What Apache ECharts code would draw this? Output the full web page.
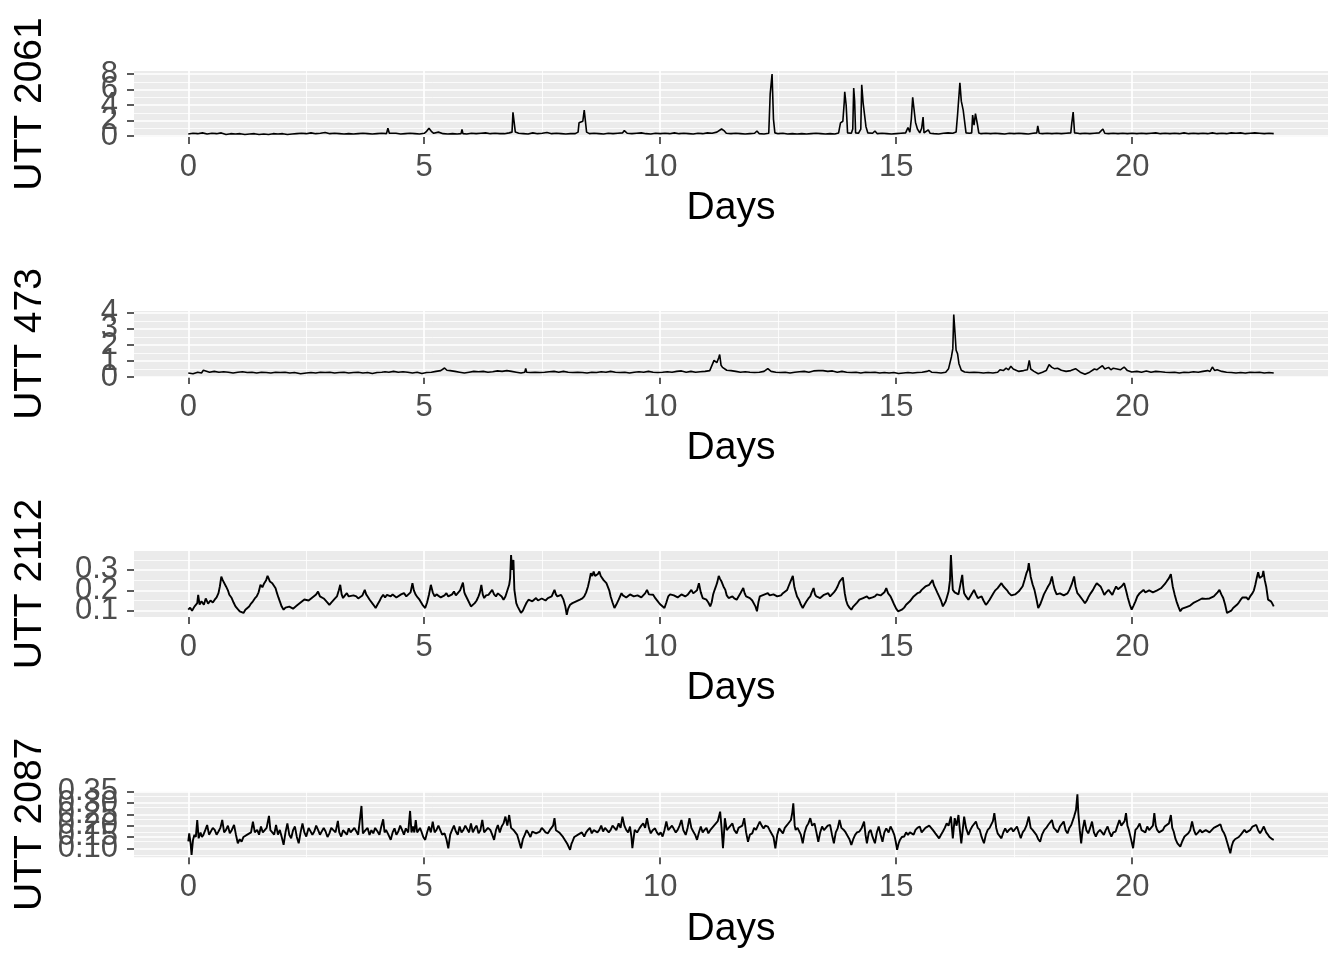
<!DOCTYPE html>
<html>
<head>
<meta charset="utf-8">
<script src="https://cdn.jsdelivr.net/npm/echarts@6/dist/echarts.min.js"></script>
<style>
html,body{margin:0;padding:0;background:#fff;}
#chart{width:1344px;height:960px;}
</style>
</head>
<body>
<div id="chart"></div>
<script>
// ---------- DATA ----------
const panelNames = ['UTT 2061', 'UTT 473', 'UTT 2112', 'UTT 2087'];
const xTitle = 'Days';
const xTicks = [0, 5, 10, 15, 20];
const xMinor = [2.5, 7.5, 12.5, 17.5, 22.5];

const yTicks1 = [0, 2, 4, 6, 8];
const yMinor1 = [1, 3, 5, 7];
const yTicks2 = [0, 1, 2, 3, 4];
const yMinor2 = [0.5, 1.5, 2.5, 3.5];
const yTicks3 = [0.1, 0.2, 0.3];
const yMinor3 = [0.15, 0.25, 0.35];
const yTicks4 = [0.10, 0.15, 0.20, 0.25, 0.30, 0.35];
const yMinor4 = [0.075, 0.125, 0.175, 0.225, 0.275, 0.325];
const yDecimals = [0, 0, 1, 2];

// [day, value]
const utt2061 = [[0,0.25],[0.1,0.35],[0.2,0.3],[0.3,0.4],[0.4,0.25],[0.5,0.35],[0.6,0.3],[0.7,0.4],[0.8,0.2],[0.9,0.3],[1.0,0.25],[1.1,0.3],[1.2,0.2],[1.3,0.25],[1.4,0.3],[1.5,0.2],[1.6,0.25],[1.7,0.2],[1.8,0.3],[1.9,0.25],[2.0,0.3],[2.1,0.2],[2.2,0.25],[2.3,0.3],[2.4,0.35],[2.5,0.3],[2.6,0.4],[2.7,0.3],[2.8,0.35],[2.9,0.45],[3.0,0.3],[3.1,0.35],[3.2,0.3],[3.3,0.25],[3.4,0.3],[3.5,0.25],[3.6,0.3],[3.7,0.35],[3.8,0.3],[3.9,0.25],[4.0,0.3],[4.1,0.35],[4.2,0.3],[4.23,1.0],[4.26,0.35],[4.3,0.3],[4.4,0.35],[4.5,0.25],[4.6,0.3],[4.7,0.35],[4.8,0.3],[4.9,0.25],[5.0,0.35],[5.05,0.6],[5.1,1.0],[5.15,0.6],[5.2,0.35],[5.3,0.5],[5.4,0.3],[5.5,0.25],[5.6,0.3],[5.7,0.25],[5.78,0.3],[5.8,0.86],[5.82,0.3],[5.9,0.25],[6.0,0.35],[6.1,0.3],[6.2,0.35],[6.3,0.4],[6.4,0.3],[6.5,0.35],[6.6,0.3],[6.7,0.3],[6.8,0.4],[6.86,0.5],[6.88,3.05],[6.91,3.0],[6.93,0.5],[7.0,0.35],[7.1,0.3],[7.2,0.25],[7.3,0.4],[7.4,0.3],[7.5,0.35],[7.6,0.45],[7.7,0.3],[7.8,0.35],[7.9,0.3],[8.0,0.25],[8.1,0.3],[8.2,0.3],[8.26,0.5],[8.28,1.7],[8.32,1.9],[8.36,1.9],[8.39,3.35],[8.42,3.3],[8.44,0.5],[8.5,0.3],[8.6,0.35],[8.7,0.3],[8.8,0.25],[8.9,0.35],[9.0,0.3],[9.1,0.35],[9.2,0.4],[9.24,0.7],[9.3,0.35],[9.4,0.3],[9.5,0.35],[9.6,0.4],[9.7,0.3],[9.8,0.25],[9.9,0.35],[10.0,0.3],[10.1,0.35],[10.2,0.3],[10.3,0.4],[10.4,0.3],[10.5,0.35],[10.6,0.3],[10.7,0.25],[10.8,0.35],[10.9,0.3],[11.0,0.4],[11.1,0.35],[11.2,0.5],[11.3,0.9],[11.35,0.7],[11.4,0.35],[11.5,0.3],[11.6,0.35],[11.7,0.3],[11.8,0.25],[11.9,0.3],[12.0,0.35],[12.05,0.65],[12.1,0.3],[12.2,0.25],[12.3,0.35],[12.33,5.4],[12.37,8.0],[12.4,2.15],[12.43,0.4],[12.5,0.3],[12.6,0.35],[12.7,0.25],[12.8,0.3],[12.9,0.25],[13.0,0.3],[13.1,0.25],[13.2,0.3],[13.3,0.35],[13.4,0.3],[13.5,0.25],[13.6,0.3],[13.7,0.25],[13.78,0.4],[13.82,1.7],[13.87,1.9],[13.9,4.4],[13.91,5.7],[13.94,4.0],[13.97,0.4],[14.05,0.35],[14.08,0.9],[14.1,6.2],[14.12,4.5],[14.14,0.4],[14.2,0.35],[14.25,0.9],[14.27,6.6],[14.3,4.25],[14.34,4.0],[14.36,1.2],[14.4,0.4],[14.5,0.35],[14.55,0.65],[14.6,0.3],[14.7,0.35],[14.8,0.3],[14.9,0.25],[15.0,0.3],[15.1,0.35],[15.2,0.4],[15.25,1.1],[15.29,0.5],[15.32,2.15],[15.35,5.0],[15.37,3.9],[15.41,1.75],[15.45,0.9],[15.5,0.4],[15.54,1.0],[15.57,2.45],[15.59,0.4],[15.68,0.8],[15.72,0.35],[15.8,0.3],[15.9,0.25],[16.0,0.35],[16.1,0.4],[16.2,0.35],[16.27,0.5],[16.3,2.7],[16.35,6.85],[16.38,4.5],[16.42,3.35],[16.45,3.45],[16.48,0.4],[16.55,0.35],[16.6,0.4],[16.62,2.7],[16.65,1.4],[16.68,2.9],[16.72,1.55],[16.75,0.4],[16.8,0.3],[16.9,0.35],[17.0,0.3],[17.1,0.35],[17.2,0.3],[17.3,0.25],[17.4,0.35],[17.5,0.3],[17.6,0.35],[17.7,0.3],[17.8,0.25],[17.9,0.35],[17.98,0.4],[18.0,1.3],[18.03,0.35],[18.1,0.3],[18.2,0.35],[18.3,0.3],[18.4,0.35],[18.5,0.3],[18.6,0.35],[18.7,0.4],[18.72,1.6],[18.75,3.1],[18.78,0.4],[18.85,0.35],[18.9,0.3],[19.0,0.35],[19.1,0.3],[19.2,0.35],[19.3,0.4],[19.38,0.9],[19.42,0.35],[19.5,0.3],[19.6,0.35],[19.7,0.3],[19.8,0.35],[19.9,0.3],[20.0,0.35],[20.1,0.3],[20.2,0.35],[20.3,0.3],[20.4,0.35],[20.5,0.4],[20.6,0.3],[20.7,0.35],[20.8,0.3],[20.9,0.35],[21.0,0.3],[21.1,0.4],[21.2,0.3],[21.3,0.35],[21.4,0.3],[21.5,0.35],[21.6,0.3],[21.7,0.4],[21.8,0.3],[21.9,0.35],[22.0,0.3],[22.1,0.4],[22.2,0.35],[22.3,0.4],[22.4,0.3],[22.5,0.35],[22.6,0.4],[22.7,0.35],[22.8,0.3],[22.9,0.35],[23.0,0.3]];

const utt473 = [[0,0.25],[0.1,0.2],[0.2,0.3],[0.28,0.25],[0.32,0.42],[0.36,0.3],[0.45,0.3],[0.55,0.35],[0.65,0.3],[0.75,0.33],[0.85,0.3],[0.95,0.25],[1.05,0.3],[1.15,0.33],[1.25,0.28],[1.35,0.3],[1.45,0.25],[1.55,0.3],[1.65,0.28],[1.75,0.25],[1.85,0.3],[1.95,0.28],[2.05,0.3],[2.15,0.25],[2.25,0.28],[2.38,0.2],[2.5,0.25],[2.6,0.28],[2.7,0.25],[2.8,0.3],[2.9,0.28],[3.0,0.3],[3.1,0.25],[3.2,0.28],[3.3,0.3],[3.4,0.25],[3.5,0.28],[3.6,0.3],[3.7,0.25],[3.8,0.28],[3.9,0.22],[4.0,0.28],[4.1,0.3],[4.17,0.33],[4.25,0.3],[4.35,0.35],[4.45,0.3],[4.55,0.33],[4.65,0.3],[4.75,0.25],[4.85,0.3],[4.95,0.22],[5.05,0.28],[5.15,0.3],[5.25,0.35],[5.35,0.4],[5.43,0.56],[5.48,0.42],[5.55,0.4],[5.65,0.35],[5.75,0.3],[5.85,0.25],[5.95,0.3],[6.05,0.35],[6.15,0.33],[6.25,0.35],[6.35,0.3],[6.45,0.33],[6.55,0.38],[6.65,0.35],[6.75,0.4],[6.85,0.35],[6.89,0.46],[6.95,0.3],[7.05,0.25],[7.13,0.3],[7.15,0.54],[7.17,0.3],[7.25,0.28],[7.35,0.3],[7.45,0.28],[7.55,0.3],[7.65,0.33],[7.75,0.35],[7.85,0.3],[7.95,0.35],[8.05,0.3],[8.15,0.28],[8.25,0.3],[8.35,0.28],[8.45,0.25],[8.55,0.3],[8.65,0.28],[8.75,0.33],[8.85,0.3],[8.95,0.35],[9.05,0.3],[9.15,0.28],[9.25,0.3],[9.35,0.25],[9.45,0.3],[9.55,0.33],[9.65,0.3],[9.75,0.35],[9.85,0.3],[9.95,0.28],[10.05,0.3],[10.15,0.33],[10.25,0.3],[10.35,0.35],[10.45,0.38],[10.55,0.3],[10.65,0.35],[10.75,0.3],[10.85,0.33],[10.95,0.35],[11.05,0.4],[11.14,1.04],[11.2,0.9],[11.24,1.2],[11.26,1.4],[11.29,0.73],[11.32,0.6],[11.36,0.52],[11.41,0.42],[11.5,0.4],[11.6,0.35],[11.7,0.3],[11.8,0.33],[11.9,0.3],[12.0,0.28],[12.1,0.3],[12.2,0.35],[12.28,0.52],[12.35,0.35],[12.45,0.3],[12.55,0.28],[12.65,0.3],[12.75,0.25],[12.85,0.3],[12.95,0.33],[13.05,0.35],[13.15,0.3],[13.25,0.38],[13.35,0.4],[13.39,0.52],[13.45,0.4],[13.55,0.35],[13.65,0.38],[13.75,0.3],[13.85,0.35],[13.95,0.3],[14.05,0.28],[14.15,0.3],[14.25,0.25],[14.35,0.3],[14.45,0.28],[14.55,0.3],[14.65,0.25],[14.75,0.28],[14.85,0.25],[14.95,0.28],[15.05,0.22],[15.15,0.25],[15.25,0.28],[15.35,0.25],[15.45,0.28],[15.55,0.3],[15.65,0.35],[15.7,0.4],[15.75,0.3],[15.85,0.28],[15.95,0.25],[16.05,0.3],[16.11,0.52],[16.17,1.25],[16.2,1.77],[16.22,3.9],[16.25,2.6],[16.27,1.67],[16.3,1.46],[16.33,0.83],[16.38,0.42],[16.45,0.31],[16.55,0.28],[16.65,0.3],[16.75,0.28],[16.85,0.25],[16.95,0.28],[17.05,0.25],[17.15,0.3],[17.2,0.45],[17.27,0.4],[17.33,0.55],[17.38,0.45],[17.43,0.67],[17.48,0.5],[17.52,0.55],[17.6,0.35],[17.7,0.4],[17.78,0.45],[17.82,1.04],[17.85,0.5],[17.92,0.35],[18.01,0.2],[18.1,0.3],[18.18,0.4],[18.24,0.77],[18.3,0.6],[18.35,0.52],[18.42,0.55],[18.5,0.42],[18.6,0.35],[18.7,0.4],[18.8,0.52],[18.9,0.3],[19.0,0.17],[19.1,0.3],[19.2,0.5],[19.25,0.45],[19.32,0.6],[19.37,0.7],[19.42,0.5],[19.5,0.6],[19.55,0.45],[19.6,0.55],[19.68,0.5],[19.75,0.45],[19.83,0.62],[19.9,0.4],[19.99,0.31],[20.1,0.35],[20.2,0.3],[20.3,0.38],[20.4,0.3],[20.5,0.35],[20.6,0.33],[20.7,0.3],[20.8,0.28],[20.9,0.3],[21.0,0.25],[21.1,0.3],[21.2,0.28],[21.3,0.33],[21.4,0.3],[21.5,0.35],[21.6,0.4],[21.65,0.35],[21.7,0.62],[21.75,0.4],[21.8,0.45],[21.9,0.35],[22.0,0.3],[22.1,0.28],[22.2,0.25],[22.3,0.28],[22.4,0.25],[22.5,0.3],[22.6,0.28],[22.7,0.3],[22.8,0.25],[22.9,0.28],[23.0,0.25]];

const utt2112 = [[0,0.105],[0.04,0.115],[0.08,0.1],[0.13,0.12],[0.19,0.137],[0.21,0.178],[0.24,0.13],[0.28,0.146],[0.33,0.129],[0.37,0.16],[0.42,0.135],[0.47,0.15],[0.52,0.14],[0.56,0.154],[0.6,0.165],[0.64,0.186],[0.67,0.22],[0.7,0.267],[0.73,0.25],[0.76,0.243],[0.8,0.219],[0.84,0.2],[0.87,0.178],[0.92,0.162],[0.96,0.14],[1.0,0.121],[1.04,0.11],[1.09,0.097],[1.13,0.1],[1.17,0.089],[1.21,0.105],[1.25,0.11],[1.29,0.121],[1.33,0.135],[1.37,0.146],[1.41,0.16],[1.45,0.17],[1.49,0.19],[1.53,0.227],[1.57,0.215],[1.61,0.235],[1.65,0.25],[1.68,0.271],[1.71,0.255],[1.73,0.243],[1.78,0.235],[1.82,0.227],[1.85,0.21],[1.88,0.186],[1.91,0.165],[1.94,0.146],[1.98,0.12],[2.02,0.105],[2.06,0.115],[2.1,0.113],[2.14,0.12],[2.18,0.121],[2.22,0.11],[2.26,0.113],[2.3,0.125],[2.34,0.129],[2.38,0.14],[2.42,0.146],[2.46,0.155],[2.5,0.162],[2.55,0.15],[2.59,0.154],[2.63,0.165],[2.67,0.17],[2.71,0.18],[2.75,0.194],[2.79,0.17],[2.83,0.17],[2.87,0.16],[2.91,0.154],[2.95,0.14],[2.99,0.129],[3.03,0.14],[3.07,0.146],[3.11,0.16],[3.15,0.17],[3.19,0.2],[3.22,0.227],[3.25,0.18],[3.28,0.162],[3.32,0.175],[3.36,0.186],[3.4,0.17],[3.44,0.162],[3.5,0.175],[3.56,0.17],[3.6,0.16],[3.64,0.154],[3.69,0.175],[3.74,0.202],[3.77,0.18],[3.8,0.17],[3.84,0.155],[3.88,0.146],[3.92,0.13],[3.97,0.113],[4.01,0.13],[4.05,0.146],[4.09,0.165],[4.13,0.178],[4.17,0.165],[4.21,0.178],[4.25,0.17],[4.29,0.17],[4.33,0.18],[4.37,0.178],[4.41,0.165],[4.45,0.17],[4.51,0.18],[4.57,0.186],[4.62,0.17],[4.66,0.17],[4.71,0.19],[4.75,0.235],[4.78,0.2],[4.82,0.178],[4.86,0.165],[4.9,0.154],[4.96,0.13],[5.02,0.113],[5.06,0.14],[5.1,0.178],[5.14,0.227],[5.18,0.19],[5.22,0.17],[5.26,0.18],[5.3,0.186],[5.35,0.165],[5.39,0.162],[5.43,0.175],[5.47,0.186],[5.51,0.17],[5.55,0.17],[5.59,0.18],[5.63,0.194],[5.67,0.175],[5.71,0.178],[5.76,0.2],[5.82,0.238],[5.85,0.19],[5.87,0.178],[5.93,0.15],[5.99,0.121],[6.03,0.13],[6.07,0.137],[6.11,0.15],[6.15,0.17],[6.18,0.19],[6.21,0.227],[6.24,0.18],[6.27,0.162],[6.31,0.175],[6.36,0.178],[6.4,0.19],[6.44,0.202],[6.48,0.18],[6.52,0.17],[6.56,0.185],[6.6,0.194],[6.64,0.17],[6.68,0.154],[6.72,0.17],[6.76,0.178],[6.8,0.227],[6.82,0.26],[6.84,0.373],[6.86,0.3],[6.87,0.3],[6.89,0.349],[6.91,0.202],[6.95,0.137],[6.98,0.12],[7.01,0.113],[7.05,0.089],[7.09,0.1],[7.13,0.121],[7.17,0.14],[7.21,0.154],[7.25,0.16],[7.29,0.146],[7.33,0.155],[7.37,0.162],[7.41,0.15],[7.45,0.154],[7.49,0.16],[7.53,0.157],[7.57,0.15],[7.62,0.162],[7.66,0.158],[7.7,0.17],[7.76,0.202],[7.79,0.18],[7.82,0.17],[7.86,0.165],[7.9,0.178],[7.95,0.154],[7.99,0.12],[8.02,0.08],[8.05,0.11],[8.09,0.129],[8.14,0.137],[8.18,0.14],[8.22,0.146],[8.26,0.15],[8.3,0.154],[8.35,0.16],[8.39,0.17],[8.43,0.19],[8.47,0.219],[8.5,0.25],[8.53,0.284],[8.56,0.27],[8.59,0.292],[8.62,0.27],[8.65,0.267],[8.68,0.28],[8.71,0.292],[8.74,0.27],[8.77,0.267],[8.8,0.25],[8.83,0.243],[8.86,0.235],[8.89,0.227],[8.92,0.2],[8.95,0.17],[8.99,0.14],[9.03,0.113],[9.07,0.13],[9.12,0.154],[9.15,0.17],[9.18,0.186],[9.21,0.175],[9.24,0.178],[9.28,0.165],[9.32,0.17],[9.36,0.18],[9.4,0.186],[9.44,0.17],[9.48,0.162],[9.52,0.175],[9.56,0.178],[9.6,0.165],[9.64,0.17],[9.68,0.185],[9.72,0.202],[9.76,0.18],[9.79,0.186],[9.85,0.178],[9.9,0.16],[9.93,0.154],[9.97,0.14],[10.01,0.129],[10.05,0.12],[10.09,0.113],[10.13,0.14],[10.17,0.17],[10.21,0.18],[10.25,0.186],[10.29,0.175],[10.33,0.178],[10.37,0.165],[10.41,0.17],[10.45,0.18],[10.49,0.178],[10.53,0.17],[10.58,0.178],[10.62,0.19],[10.66,0.202],[10.7,0.185],[10.74,0.178],[10.78,0.2],[10.82,0.235],[10.86,0.19],[10.9,0.162],[10.94,0.16],[10.98,0.154],[11.02,0.14],[11.06,0.121],[11.09,0.14],[11.12,0.178],[11.15,0.2],[11.18,0.219],[11.21,0.24],[11.24,0.271],[11.27,0.255],[11.3,0.243],[11.34,0.219],[11.38,0.202],[11.41,0.175],[11.45,0.162],[11.49,0.165],[11.53,0.17],[11.57,0.16],[11.62,0.154],[11.66,0.17],[11.7,0.186],[11.73,0.195],[11.76,0.211],[11.79,0.185],[11.82,0.17],[11.86,0.165],[11.9,0.162],[11.95,0.15],[11.99,0.146],[12.02,0.12],[12.05,0.097],[12.08,0.14],[12.11,0.17],[12.15,0.165],[12.19,0.178],[12.23,0.17],[12.28,0.186],[12.32,0.175],[12.36,0.17],[12.4,0.18],[12.44,0.186],[12.48,0.17],[12.52,0.162],[12.56,0.175],[12.6,0.186],[12.64,0.19],[12.69,0.202],[12.72,0.22],[12.76,0.243],[12.79,0.25],[12.81,0.271],[12.84,0.22],[12.86,0.202],[12.9,0.17],[12.94,0.154],[12.98,0.13],[13.02,0.113],[13.06,0.13],[13.1,0.146],[13.14,0.16],[13.18,0.17],[13.21,0.19],[13.25,0.211],[13.28,0.18],[13.31,0.17],[13.35,0.165],[13.39,0.162],[13.43,0.17],[13.47,0.178],[13.51,0.18],[13.56,0.186],[13.6,0.17],[13.64,0.178],[13.68,0.19],[13.72,0.202],[13.76,0.22],[13.8,0.243],[13.84,0.25],[13.87,0.263],[13.91,0.186],[13.94,0.15],[13.97,0.129],[14.01,0.115],[14.05,0.105],[14.09,0.12],[14.13,0.129],[14.17,0.14],[14.22,0.154],[14.26,0.16],[14.3,0.162],[14.34,0.168],[14.38,0.17],[14.42,0.16],[14.46,0.154],[14.5,0.165],[14.55,0.17],[14.59,0.18],[14.63,0.186],[14.67,0.175],[14.71,0.178],[14.75,0.19],[14.79,0.211],[14.83,0.185],[14.88,0.17],[14.92,0.15],[14.96,0.129],[15.0,0.11],[15.04,0.097],[15.08,0.1],[15.12,0.105],[15.17,0.115],[15.21,0.129],[15.25,0.135],[15.29,0.146],[15.33,0.155],[15.37,0.17],[15.41,0.178],[15.45,0.186],[15.5,0.19],[15.54,0.202],[15.58,0.21],[15.62,0.219],[15.66,0.215],[15.7,0.227],[15.74,0.24],[15.77,0.251],[15.8,0.225],[15.83,0.211],[15.87,0.19],[15.91,0.17],[15.95,0.15],[15.99,0.121],[16.02,0.13],[16.05,0.146],[16.08,0.17],[16.11,0.194],[16.14,0.25],[16.16,0.373],[16.18,0.284],[16.2,0.202],[16.24,0.19],[16.28,0.186],[16.32,0.18],[16.36,0.178],[16.4,0.276],[16.42,0.22],[16.44,0.186],[16.48,0.17],[16.53,0.154],[16.57,0.17],[16.61,0.186],[16.65,0.202],[16.69,0.18],[16.73,0.162],[16.77,0.17],[16.81,0.17],[16.85,0.15],[16.9,0.129],[16.94,0.14],[16.98,0.154],[17.02,0.17],[17.06,0.186],[17.1,0.2],[17.15,0.211],[17.19,0.22],[17.23,0.235],[17.27,0.22],[17.31,0.211],[17.35,0.2],[17.39,0.186],[17.44,0.175],[17.48,0.17],[17.52,0.18],[17.56,0.186],[17.6,0.195],[17.64,0.202],[17.68,0.22],[17.72,0.251],[17.76,0.284],[17.79,0.3],[17.81,0.333],[17.83,0.3],[17.85,0.267],[17.89,0.23],[17.93,0.202],[17.97,0.16],[18.01,0.113],[18.05,0.13],[18.09,0.154],[18.13,0.18],[18.18,0.202],[18.22,0.22],[18.26,0.235],[18.3,0.268],[18.33,0.23],[18.36,0.202],[18.4,0.18],[18.42,0.178],[18.47,0.185],[18.51,0.186],[18.55,0.175],[18.59,0.17],[18.63,0.185],[18.67,0.202],[18.72,0.23],[18.77,0.268],[18.8,0.22],[18.84,0.186],[18.88,0.175],[18.92,0.17],[18.96,0.15],[19.0,0.137],[19.04,0.15],[19.08,0.17],[19.12,0.185],[19.17,0.202],[19.21,0.22],[19.25,0.235],[19.29,0.23],[19.33,0.219],[19.37,0.2],[19.41,0.178],[19.45,0.19],[19.5,0.202],[19.54,0.19],[19.58,0.178],[19.62,0.2],[19.66,0.219],[19.7,0.205],[19.74,0.202],[19.78,0.22],[19.83,0.235],[19.87,0.2],[19.91,0.162],[19.95,0.13],[19.99,0.105],[20.03,0.125],[20.07,0.146],[20.11,0.17],[20.16,0.186],[20.2,0.195],[20.24,0.202],[20.28,0.19],[20.32,0.194],[20.36,0.2],[20.4,0.202],[20.44,0.19],[20.48,0.194],[20.53,0.2],[20.57,0.202],[20.61,0.21],[20.65,0.219],[20.69,0.23],[20.73,0.243],[20.78,0.26],[20.82,0.279],[20.86,0.219],[20.9,0.18],[20.94,0.146],[20.98,0.12],[21.02,0.097],[21.06,0.11],[21.1,0.113],[21.15,0.118],[21.19,0.121],[21.23,0.125],[21.27,0.129],[21.31,0.14],[21.35,0.146],[21.4,0.15],[21.44,0.154],[21.48,0.16],[21.52,0.162],[21.56,0.158],[21.6,0.154],[21.64,0.16],[21.68,0.162],[21.73,0.17],[21.77,0.178],[21.81,0.19],[21.85,0.202],[21.89,0.18],[21.93,0.162],[21.97,0.13],[22.01,0.089],[22.05,0.08],[22.1,0.1],[22.14,0.113],[22.18,0.12],[22.22,0.129],[22.26,0.14],[22.3,0.154],[22.34,0.165],[22.38,0.17],[22.42,0.165],[22.46,0.154],[22.5,0.17],[22.55,0.186],[22.58,0.2],[22.61,0.227],[22.64,0.26],[22.67,0.289],[22.7,0.26],[22.73,0.251],[22.76,0.27],[22.78,0.295],[22.81,0.25],[22.84,0.219],[22.88,0.154],[22.91,0.15],[22.94,0.146],[22.97,0.135],[23.0,0.121]];

const utt2087 = [[0,0.13],[0.02,0.166],[0.05,0.12],[0.07,0.071],[0.1,0.137],[0.13,0.16],[0.16,0.15],[0.19,0.225],[0.22,0.144],[0.26,0.17],[0.29,0.15],[0.32,0.159],[0.36,0.18],[0.4,0.203],[0.44,0.16],[0.48,0.166],[0.52,0.19],[0.56,0.181],[0.6,0.16],[0.64,0.174],[0.68,0.19],[0.72,0.225],[0.76,0.17],[0.8,0.181],[0.84,0.2],[0.88,0.166],[0.92,0.18],[0.97,0.203],[1.01,0.16],[1.05,0.122],[1.09,0.14],[1.13,0.129],[1.17,0.15],[1.21,0.144],[1.25,0.16],[1.29,0.152],[1.33,0.17],[1.37,0.218],[1.41,0.17],[1.46,0.181],[1.5,0.16],[1.54,0.196],[1.58,0.17],[1.61,0.174],[1.66,0.19],[1.71,0.243],[1.74,0.18],[1.78,0.181],[1.82,0.16],[1.86,0.203],[1.9,0.16],[1.94,0.181],[1.98,0.15],[2.02,0.115],[2.06,0.17],[2.1,0.21],[2.14,0.16],[2.18,0.144],[2.22,0.18],[2.26,0.196],[2.3,0.15],[2.34,0.122],[2.38,0.17],[2.42,0.21],[2.46,0.17],[2.5,0.152],[2.55,0.19],[2.59,0.188],[2.63,0.16],[2.67,0.174],[2.71,0.2],[2.75,0.181],[2.79,0.16],[2.83,0.159],[2.87,0.19],[2.91,0.174],[2.95,0.15],[2.99,0.166],[3.03,0.19],[3.07,0.181],[3.12,0.17],[3.17,0.221],[3.2,0.17],[3.24,0.152],[3.28,0.18],[3.32,0.181],[3.36,0.16],[3.4,0.188],[3.44,0.17],[3.48,0.174],[3.52,0.19],[3.56,0.196],[3.6,0.16],[3.64,0.166],[3.67,0.287],[3.7,0.166],[3.73,0.17],[3.76,0.181],[3.8,0.19],[3.84,0.159],[3.88,0.18],[3.92,0.166],[3.96,0.19],[4.01,0.174],[4.05,0.16],[4.09,0.196],[4.13,0.228],[4.16,0.17],[4.19,0.181],[4.24,0.16],[4.29,0.137],[4.33,0.17],[4.37,0.188],[4.41,0.16],[4.45,0.174],[4.49,0.2],[4.53,0.181],[4.57,0.16],[4.61,0.188],[4.66,0.17],[4.7,0.265],[4.73,0.17],[4.76,0.196],[4.79,0.17],[4.82,0.225],[4.85,0.17],[4.87,0.166],[4.91,0.19],[4.94,0.174],[4.98,0.15],[5.02,0.137],[5.06,0.17],[5.1,0.196],[5.14,0.17],[5.18,0.218],[5.22,0.17],[5.26,0.181],[5.3,0.2],[5.34,0.196],[5.38,0.16],[5.43,0.166],[5.47,0.14],[5.51,0.1],[5.55,0.16],[5.59,0.181],[5.63,0.2],[5.67,0.174],[5.71,0.16],[5.75,0.196],[5.79,0.17],[5.83,0.181],[5.87,0.2],[5.91,0.196],[5.95,0.17],[5.99,0.21],[6.03,0.17],[6.07,0.188],[6.11,0.2],[6.15,0.166],[6.19,0.18],[6.23,0.225],[6.27,0.17],[6.31,0.166],[6.35,0.19],[6.4,0.181],[6.44,0.16],[6.48,0.137],[6.52,0.18],[6.56,0.203],[6.6,0.17],[6.64,0.196],[6.68,0.21],[6.72,0.24],[6.76,0.2],[6.8,0.247],[6.84,0.19],[6.89,0.181],[6.93,0.17],[6.97,0.159],[7.01,0.13],[7.05,0.1],[7.09,0.14],[7.13,0.159],[7.17,0.18],[7.21,0.166],[7.25,0.15],[7.29,0.174],[7.33,0.18],[7.37,0.166],[7.41,0.16],[7.45,0.174],[7.49,0.19],[7.53,0.181],[7.57,0.17],[7.62,0.166],[7.66,0.18],[7.7,0.181],[7.73,0.2],[7.76,0.233],[7.79,0.18],[7.82,0.181],[7.86,0.17],[7.9,0.166],[7.94,0.15],[7.98,0.144],[8.03,0.12],[8.09,0.093],[8.12,0.12],[8.14,0.129],[8.18,0.15],[8.22,0.144],[8.26,0.16],[8.3,0.159],[8.34,0.17],[8.39,0.152],[8.43,0.17],[8.47,0.181],[8.51,0.19],[8.55,0.166],[8.59,0.18],[8.63,0.188],[8.67,0.17],[8.71,0.181],[8.75,0.2],[8.79,0.174],[8.83,0.19],[8.87,0.196],[8.91,0.17],[8.95,0.181],[8.99,0.2],[9.03,0.196],[9.07,0.18],[9.12,0.21],[9.16,0.19],[9.2,0.24],[9.24,0.2],[9.28,0.181],[9.32,0.17],[9.36,0.196],[9.39,0.15],[9.41,0.1],[9.44,0.15],[9.46,0.181],[9.51,0.17],[9.56,0.188],[9.6,0.2],[9.64,0.21],[9.68,0.19],[9.72,0.233],[9.76,0.19],[9.8,0.166],[9.84,0.18],[9.89,0.188],[9.93,0.17],[9.97,0.159],[10.01,0.17],[10.05,0.152],[10.09,0.18],[10.13,0.218],[10.17,0.18],[10.21,0.174],[10.25,0.2],[10.29,0.196],[10.33,0.17],[10.37,0.181],[10.41,0.2],[10.45,0.225],[10.49,0.18],[10.54,0.159],[10.58,0.19],[10.62,0.233],[10.66,0.19],[10.7,0.174],[10.74,0.16],[10.78,0.137],[10.82,0.17],[10.86,0.196],[10.9,0.17],[10.94,0.181],[10.98,0.19],[11.02,0.166],[11.06,0.18],[11.1,0.188],[11.14,0.2],[11.18,0.21],[11.22,0.22],[11.27,0.262],[11.3,0.19],[11.33,0.1],[11.35,0.16],[11.37,0.233],[11.41,0.18],[11.45,0.181],[11.49,0.2],[11.53,0.21],[11.57,0.18],[11.62,0.166],[11.66,0.19],[11.7,0.196],[11.74,0.2],[11.78,0.233],[11.82,0.17],[11.86,0.129],[11.9,0.16],[11.95,0.166],[11.99,0.19],[12.03,0.181],[12.07,0.2],[12.11,0.218],[12.15,0.2],[12.19,0.188],[12.23,0.2],[12.28,0.196],[12.32,0.18],[12.36,0.181],[12.4,0.15],[12.44,0.1],[12.48,0.16],[12.52,0.188],[12.56,0.18],[12.6,0.166],[12.64,0.19],[12.69,0.203],[12.73,0.2],[12.77,0.225],[12.8,0.26],[12.82,0.299],[12.85,0.2],[12.87,0.181],[12.91,0.19],[12.94,0.196],[12.98,0.16],[13.02,0.122],[13.06,0.17],[13.1,0.196],[13.14,0.21],[13.18,0.233],[13.22,0.2],[13.27,0.21],[13.31,0.17],[13.35,0.129],[13.39,0.17],[13.43,0.196],[13.47,0.18],[13.51,0.181],[13.55,0.2],[13.6,0.203],[13.64,0.16],[13.68,0.122],[13.72,0.17],[13.76,0.188],[13.8,0.225],[13.84,0.19],[13.89,0.181],[13.93,0.17],[13.97,0.166],[14.01,0.14],[14.05,0.115],[14.09,0.14],[14.13,0.159],[14.17,0.17],[14.22,0.174],[14.27,0.19],[14.32,0.218],[14.35,0.16],[14.38,0.122],[14.42,0.17],[14.46,0.181],[14.5,0.15],[14.55,0.122],[14.59,0.17],[14.63,0.196],[14.67,0.16],[14.71,0.129],[14.75,0.17],[14.79,0.188],[14.84,0.17],[14.88,0.196],[14.92,0.18],[14.96,0.159],[14.99,0.13],[15.02,0.093],[15.05,0.12],[15.08,0.137],[15.12,0.15],[15.17,0.152],[15.21,0.17],[15.25,0.159],[15.29,0.17],[15.33,0.174],[15.37,0.16],[15.41,0.181],[15.45,0.19],[15.5,0.196],[15.54,0.17],[15.58,0.174],[15.62,0.19],[15.66,0.188],[15.7,0.2],[15.74,0.203],[15.78,0.18],[15.83,0.166],[15.87,0.16],[15.91,0.144],[15.95,0.16],[15.99,0.174],[16.03,0.19],[16.07,0.21],[16.11,0.2],[16.16,0.24],[16.2,0.144],[16.24,0.233],[16.28,0.2],[16.32,0.247],[16.35,0.18],[16.38,0.122],[16.41,0.18],[16.44,0.24],[16.48,0.19],[16.53,0.159],[16.57,0.18],[16.61,0.196],[16.65,0.2],[16.69,0.218],[16.73,0.19],[16.77,0.181],[16.81,0.15],[16.86,0.122],[16.9,0.16],[16.94,0.181],[16.98,0.19],[17.02,0.196],[17.05,0.22],[17.08,0.255],[17.12,0.19],[17.15,0.166],[17.19,0.16],[17.23,0.144],[17.27,0.17],[17.31,0.188],[17.35,0.17],[17.39,0.181],[17.44,0.19],[17.48,0.174],[17.52,0.18],[17.56,0.196],[17.6,0.17],[17.64,0.144],[17.68,0.17],[17.72,0.181],[17.76,0.2],[17.81,0.24],[17.85,0.19],[17.89,0.181],[17.93,0.17],[17.97,0.159],[18.01,0.14],[18.05,0.129],[18.09,0.16],[18.14,0.181],[18.18,0.19],[18.22,0.203],[18.26,0.2],[18.3,0.225],[18.34,0.19],[18.38,0.181],[18.42,0.17],[18.47,0.196],[18.51,0.19],[18.55,0.218],[18.59,0.18],[18.63,0.166],[18.67,0.19],[18.71,0.203],[18.74,0.2],[18.77,0.24],[18.81,0.269],[18.84,0.339],[18.86,0.255],[18.89,0.18],[18.92,0.122],[18.95,0.18],[18.99,0.225],[19.03,0.18],[19.07,0.166],[19.11,0.19],[19.15,0.218],[19.19,0.17],[19.23,0.152],[19.27,0.17],[19.32,0.181],[19.36,0.17],[19.4,0.159],[19.44,0.18],[19.48,0.196],[19.52,0.17],[19.56,0.152],[19.6,0.17],[19.65,0.174],[19.69,0.2],[19.73,0.225],[19.77,0.2],[19.81,0.196],[19.84,0.22],[19.87,0.255],[19.9,0.2],[19.93,0.181],[19.98,0.137],[20.02,0.1],[20.05,0.15],[20.07,0.181],[20.11,0.19],[20.16,0.21],[20.2,0.18],[20.24,0.181],[20.28,0.17],[20.32,0.196],[20.36,0.18],[20.4,0.174],[20.44,0.2],[20.47,0.255],[20.5,0.2],[20.53,0.181],[20.57,0.17],[20.61,0.166],[20.65,0.18],[20.69,0.196],[20.73,0.2],[20.78,0.21],[20.82,0.247],[20.85,0.19],[20.88,0.174],[20.92,0.14],[20.96,0.122],[21.0,0.115],[21.02,0.107],[21.06,0.13],[21.11,0.152],[21.15,0.15],[21.19,0.166],[21.23,0.18],[21.27,0.218],[21.31,0.18],[21.35,0.159],[21.4,0.17],[21.44,0.181],[21.48,0.17],[21.52,0.174],[21.56,0.18],[21.6,0.181],[21.64,0.17],[21.68,0.174],[21.73,0.19],[21.77,0.196],[21.82,0.2],[21.87,0.206],[21.91,0.18],[21.95,0.166],[21.98,0.15],[22.01,0.129],[22.05,0.1],[22.08,0.078],[22.11,0.11],[22.14,0.129],[22.18,0.14],[22.22,0.144],[22.26,0.15],[22.3,0.159],[22.34,0.17],[22.38,0.181],[22.42,0.17],[22.46,0.166],[22.5,0.18],[22.55,0.196],[22.59,0.19],[22.63,0.203],[22.67,0.18],[22.71,0.166],[22.75,0.18],[22.79,0.196],[22.84,0.17],[22.88,0.159],[22.91,0.15],[22.94,0.152],[22.97,0.14],[23.0,0.137]];

// ---------- LAYOUT / STYLE ----------
const seriesData = [utt2061, utt473, utt2112, utt2087];
const yMajor = [yTicks1, yTicks2, yTicks3, yTicks4];
const yMinorAll = [yMinor1, yMinor2, yMinor3, yMinor4];
const yRange = [[-0.13, 8.39], [0.0, 4.12], [0.069, 0.393], [0.060, 0.351]];
const xRange = [-1.15, 24.15];
const panelTop = [71, 311, 551, 791.5];
const panelHeights = [66, 66, 66, 65.8];
const lineWidths = [1.6, 1.6, 1.9, 1.9];
const FONT = "'Liberation Sans', Arial, Helvetica, sans-serif";
const labelStyle = { color: '#4D4D4D', fontSize: 31, fontFamily: FONT };
const titleStyle = { color: '#000', fontSize: 39, fontFamily: FONT };

const grids = [], xAxes = [], yAxes = [], series = [];
for (let i = 0; i < 4; i++) {
  grids.push({
    left: 134, width: 1194, top: panelTop[i], height: panelHeights[i],
    show: true, backgroundColor: '#EBEBEB', borderWidth: 0, containLabel: false
  });
  xAxes.push({
    type: 'value', gridIndex: i, min: xRange[0], max: xRange[1],
    name: xTitle, nameLocation: 'middle', nameGap: 52,
    nameTextStyle: titleStyle,
    axisLine: { show: false, onZero: false },
    axisTick: { show: true, length: 7, customValues: xTicks, lineStyle: { color: '#333', width: 1.6 } },
    axisLabel: Object.assign({ show: true, customValues: xTicks, margin: 15,
                 hideOverlap: false, showMinLabel: true, showMaxLabel: true,
                 formatter: v => String(Math.round(v)) }, labelStyle),
    splitLine: { show: false }, minorSplitLine: { show: false }
  });
  const dec = yDecimals[i];
  // main y axis: ticks + title (labels drawn by per-value label axes below)
  const mainIndex = yAxes.length;
  yAxes.push({
    type: 'value', gridIndex: i, position: 'left', offset: 0,
    min: yRange[i][0], max: yRange[i][1],
    name: panelNames[i], nameLocation: 'middle', nameRotate: 90, nameGap: 84,
    nameTextStyle: titleStyle,
    axisLine: { show: false, onZero: false },
    axisTick: { show: true, length: 7, customValues: yMajor[i], lineStyle: { color: '#333', width: 1.6 } },
    axisLabel: { show: false },
    splitLine: { show: false }, minorSplitLine: { show: false }
  });
  // one label per axis so that overlapping labels (as in the original) are all kept
  yMajor[i].forEach(v => {
    yAxes.push({
      type: 'value', gridIndex: i, position: 'left', offset: 0,
      min: yRange[i][0], max: yRange[i][1],
      axisLine: { show: false, onZero: false },
      axisTick: { show: false },
      axisLabel: Object.assign({ show: true, customValues: [v], margin: 16,
                   hideOverlap: false, showMinLabel: true, showMaxLabel: true,
                   formatter: val => Number(val).toFixed(dec) }, labelStyle),
      splitLine: { show: false }, minorSplitLine: { show: false }
    });
  });
  const ml = [];
  xMinor.forEach(v => ml.push({ xAxis: v, lineStyle: { color: '#fff', width: 0.8, type: 'solid' } }));
  yMinorAll[i].forEach(v => ml.push({ yAxis: v, lineStyle: { color: '#fff', width: 0.8, type: 'solid' } }));
  xTicks.forEach(v => ml.push({ xAxis: v, lineStyle: { color: '#fff', width: 1.7, type: 'solid' } }));
  yMajor[i].forEach(v => ml.push({ yAxis: v, lineStyle: { color: '#fff', width: 1.7, type: 'solid' } }));
  series.push({
    type: 'line', xAxisIndex: i, yAxisIndex: mainIndex, data: seriesData[i],
    symbol: 'none', showSymbol: false, z: 3,
    lineStyle: { color: '#000', width: lineWidths[i] },
    emphasis: { disabled: true },
    animation: false,
    markLine: {
      silent: true, symbol: ['none', 'none'], z: 1, animation: false,
      label: { show: false }, emphasis: { disabled: true },
      data: ml
    }
  });
}

const chart = echarts.init(document.getElementById('chart'), null, { renderer: 'canvas' });
chart.setOption({
  backgroundColor: '#fff',
  animation: false,
  grid: grids, xAxis: xAxes, yAxis: yAxes, series: series
});
</script>
</body>
</html>
